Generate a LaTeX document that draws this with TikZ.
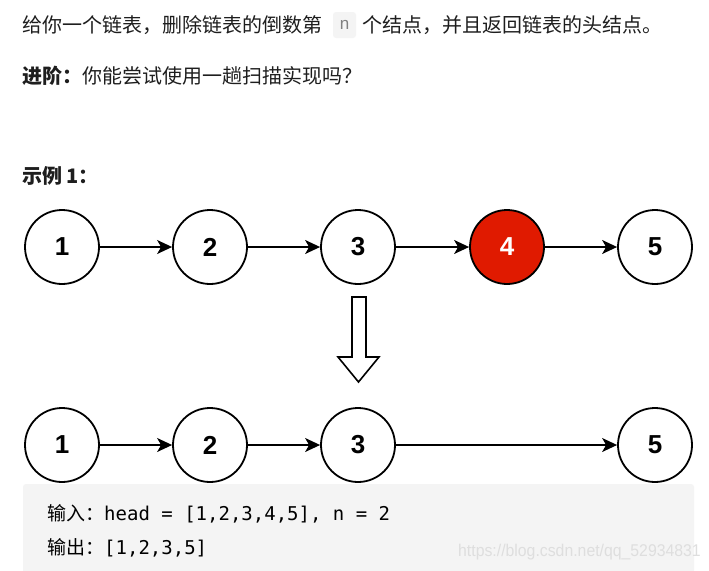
\documentclass[tikz,border=0pt]{standalone}
\usepackage{fontspec}
\setmainfont{Liberation Sans}
\setmonofont{DejaVu Sans Mono}
\newfontfamily\cjk{Noto Sans CJK SC}
\usetikzlibrary{arrows.meta}
\definecolor{txt}{HTML}{1E1E1E}
\definecolor{codebg}{HTML}{F4F4F4}
\definecolor{nodered}{HTML}{E01A00}
\definecolor{wm}{HTML}{DEDEDE}
\tikzset{
  lnode/.style={circle,draw=black,line width=1.8pt,minimum size=74pt,inner sep=0pt,fill=white,
     font=\fontsize{26}{26}\selectfont\bfseries},
  rednode/.style={lnode,fill=nodered,text=white},
  link/.style={line width=1.4pt,-{Stealth[length=15pt,width=14pt,inset=4pt]}},
  para/.style={anchor=west,inner sep=0pt,text=txt,font=\cjk\fontsize{20}{20}\selectfont},
  codetxt/.style={anchor=west,inner sep=0pt,text=black,font=\fontsize{19}{19}\selectfont},
}
\begin{document}
\begin{tikzpicture}[x=1pt,y=-1pt]
\useasboundingbox (0,0) rectangle (709,570);
\fill[white] (0,0) rectangle (709,570);
% text
\node[para] (t1a) at (22,25) {给你一个链表，删除链表的倒数第};
\fill[codebg,rounded corners=3pt] (333,12) rectangle (356,38);
\node[inner sep=0pt,text=gray,font=\rmfamily\fontsize{17}{17}\selectfont] (tn) at (344.5,25) {n};
\node[para] (t1b) at (362,25) {个结点，并且返回链表的头结点。};
\node[para] (t2) at (22,76) {{\bfseries 进阶：}你能尝试使用一趟扫描实现吗？};
\node[para] (t3) at (22,176) {\bfseries 示例 1：};
% row 1
\node[lnode] (a1) at (62,247) {1};
\node[lnode] (a2) at (210,247) {2};
\node[lnode] (a3) at (358,247) {3};
\node[rednode] (a4) at (507,247) {4};
\node[lnode] (a5) at (655,247) {5};
\draw[link] (a1) -- (a2);
\draw[link] (a2) -- (a3);
\draw[link] (a3) -- (a4);
\draw[link] (a4) -- (a5);
% big down arrow
\draw[line width=1.6pt,line join=miter,fill=white] (352,297) -- (366,297) -- (366,357) -- (379,357) -- (358.5,382) -- (338,357) -- (352,357) -- cycle;
% row 2
\node[lnode] (b1) at (62,445) {1};
\node[lnode] (b2) at (210,445) {2};
\node[lnode] (b3) at (358,445) {3};
\node[lnode] (b5) at (655,445) {5};
\draw[link] (b1) -- (b2);
\draw[link] (b2) -- (b3);
\draw[link] (b3) -- (b5);
% code box
\fill[codebg,rounded corners=3pt] (23,484) rectangle (694,575);
\node[codetxt] (c1) at (47,514) {{\cjk 输入：}\texttt{head = [1,2,3,4,5], n = 2}};
\node[codetxt] (c2) at (47,548) {{\cjk 输出：}\texttt{[1,2,3,5]}};
\node[anchor=west,inner sep=0pt,text=wm,font=\fontsize{17}{17}\selectfont,xscale=0.93] (w) at (458,552) {https://blog.csdn.net/qq\_52934831};
\end{tikzpicture}
\end{document}
